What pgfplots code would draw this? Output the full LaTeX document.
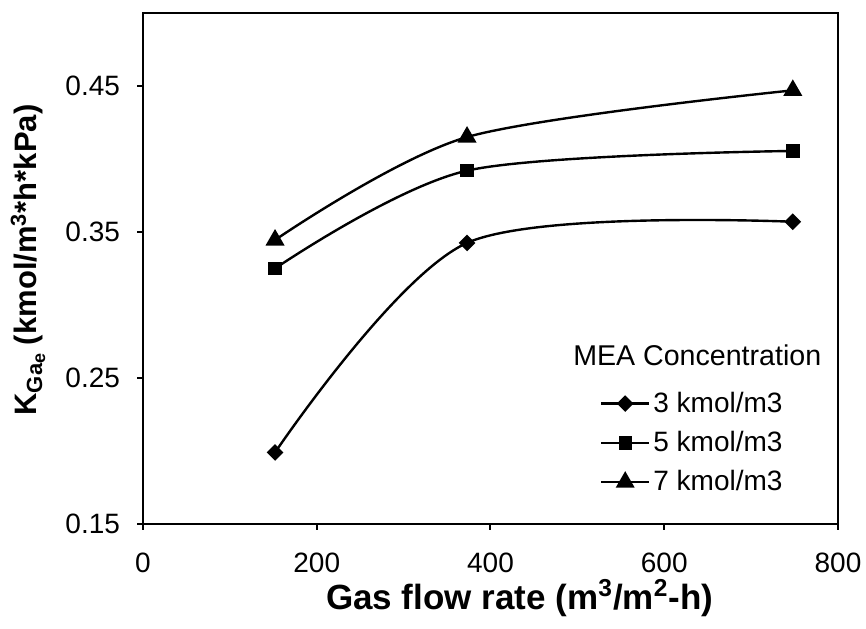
\documentclass[border=0pt]{standalone}
\usepackage{pgfplots}
\pgfplotsset{compat=1.18}
\usepackage{fontspec}
\setmainfont{Liberation Sans}
\begin{document}
\begin{tikzpicture}
\begin{axis}[
  scale only axis, width=347.5pt, height=255.5pt,
  xmin=0, xmax=800, ymin=0.15, ymax=0.5,
  xtick={0,200,400,600,800}, ytick={0.15,0.25,0.35,0.45},
  yticklabel style={xshift=-5pt, /pgf/number format/fixed, /pgf/number format/fixed zerofill, /pgf/number format/precision=2},
  /pgf/number format/assume math mode=true,
  tick align=outside, tick pos=left, major tick length=3pt,
  axis line style={line width=1pt},
  every tick/.style={line width=1pt, black},
  ticklabel style={font=\fontsize{14}{16}\selectfont},
  xticklabel style={yshift=-8pt},
  xlabel={\textbf{Gas flow rate (m\textsuperscript{3}/m\textsuperscript{2}-h)}},
  xlabel style={at={(axis description cs:0.542,-0.1448)}, anchor=center, font=\fontsize{17.5}{20}\selectfont},
  ylabel={\textbf{K\raisebox{-0.35ex}{\fontsize{11}{12}\selectfont Ga\raisebox{-0.25ex}{\fontsize{9}{10}\selectfont e}} (kmol/m\textsuperscript{3}*h*kPa)}},
  ylabel style={at={(axis description cs:-0.1655,0.5166)}, anchor=center, font=\fontsize{15.5}{18}\selectfont},
  legend style={draw=none, fill=none, at={(axis description cs:0.657,0.265)}, anchor=north west,
    font=\fontsize{14}{16}\selectfont, row sep=5pt, inner sep=0pt, nodes={inner sep=1.5pt}},
  legend cell align=left,
  legend image code/.code={\draw[mark repeat=2,mark phase=2] plot coordinates {(0pt,0pt)(12pt,0pt)(24pt,0pt)};},
  every axis plot/.append style={black, line width=1.2pt, smooth, tension=0.5},
]
\addplot[mark=square*, mark size=2.35pt, mark options={rotate=45, solid}] coordinates {(152,0.199) (373,0.3425) (748,0.357)};
\addlegendentry{3 kmol/m3}
\addplot[mark=square*, mark size=2.75pt, mark options={solid}] coordinates {(152,0.325) (373,0.392) (748,0.4055)};
\addlegendentry{5 kmol/m3}
\addplot[mark=triangle*, mark size=4.3pt, mark options={solid}] coordinates {(152,0.3445) (373,0.415) (748,0.447)};
\addlegendentry{7 kmol/m3}
\node[anchor=center, font=\fontsize{14.3}{16}\selectfont] at (axis description cs:0.7975,0.3307) {MEA Concentration};
\coordinate (bl) at (axis description cs:-0.20576,-0.2055);
\coordinate (tr) at (axis description cs:1.0403,1.0254);
\end{axis}
\pgfresetboundingbox
\path[use as bounding box] (bl) rectangle (tr);
\end{tikzpicture}
\end{document}
